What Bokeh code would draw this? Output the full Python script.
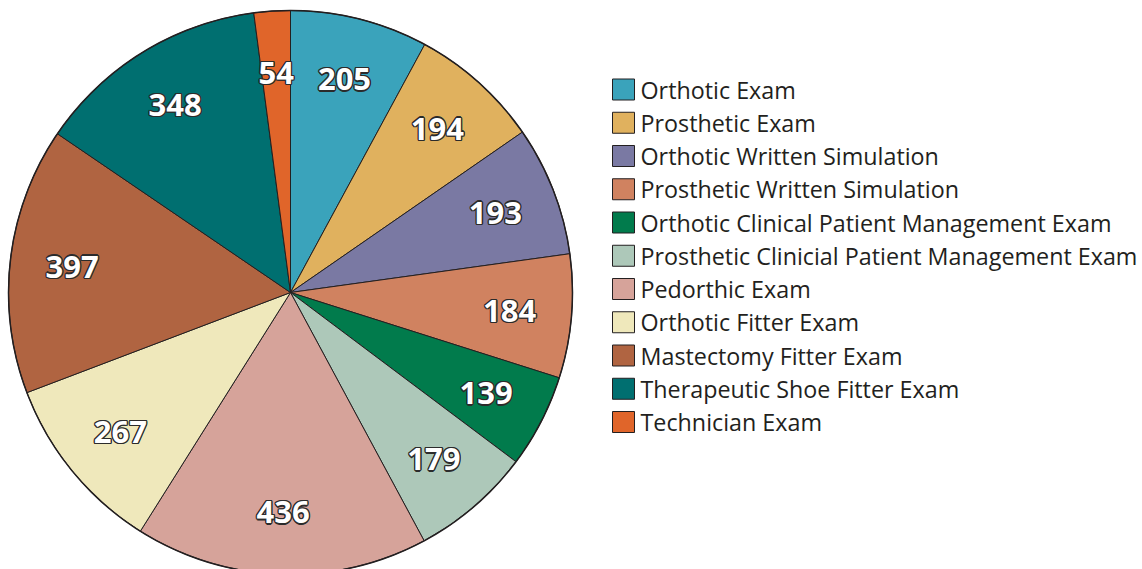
import numpy as np
from bokeh.plotting import figure
from bokeh.models import Range1d, ColumnDataSource
from bokeh.core.properties import value
from bokeh.embed import file_html
from bokeh.resources import INLINE

categories = ["Orthotic Exam", "Prosthetic Exam", "Orthotic Written Simulation",
              "Prosthetic Written Simulation", "Orthotic Clinical Patient Management Exam",
              "Prosthetic Clinicial Patient Management Exam", "Pedorthic Exam",
              "Orthotic Fitter Exam", "Mastectomy Fitter Exam",
              "Therapeutic Shoe Fitter Exam", "Technician Exam"]
counts = [205, 194, 193, 184, 139, 179, 436, 267, 397, 348, 54]
colors = ["#3aa3bb", "#e0b15e", "#7a79a3", "#d08260", "#017b4c", "#adc8b9",
          "#d6a39a", "#efe8bb", "#b06441", "#006f70", "#e0652a"]

W, H = 1142, 569
cx, cy, R = 290, H - 292, 282
label_r = 0.78 * R

vals = np.array(counts, dtype=float)
total = vals.sum()
cum_end = np.cumsum(vals)
cum_start = cum_end - vals
start = np.pi / 2 - cum_end / total * 2 * np.pi
end = np.pi / 2 - cum_start / total * 2 * np.pi
mid = (start + end) / 2
lx = cx + label_r * np.cos(mid)
ly_lab = cy + label_r * np.sin(mid)

src = ColumnDataSource(dict(start=start, end=end, color=colors))

p = figure(width=W, height=H, output_backend="svg", toolbar_location=None,
           x_range=Range1d(0, W), y_range=Range1d(0, H), min_border=0)
p.axis.visible = False
p.grid.visible = False
p.outline_line_color = None
p.background_fill_color = "white"

p.wedge(x=cx, y=cy, radius=R, start_angle="start", end_angle="end",
        fill_color="color", line_color="#231f20", line_width=1, source=src)
p.circle(x=[cx], y=[cy], radius=R, fill_color=None, line_color="#231f20", line_width=1.5)

# legend
n = len(categories)
idx = np.arange(n)
leg_top = H - 89
step = 33.25
ly = leg_top - idx * step
leg = ColumnDataSource(dict(x=[623] * n, y=ly, color=colors, name=categories,
                            tx=[640] * n))
p.rect(x="x", y="y", width=22, height=21, fill_color="color", line_color="#231f20",
       line_width=1, source=leg)
p.text(x="tx", y="y", text="name", source=leg, text_color="#231f20",
       text_font=value("Open Sans"), text_font_size="23.3px",
       text_align="left", text_baseline="middle")

# value labels: bold white with dark halo (drawn as offset dark copies)
halo = [(-1.3, 0), (1.3, 0), (0, -1.3), (0, 1.3), (-1, -1), (1, 1), (-1, 1), (1, -1)]
for i in range(n):
    for dx, dy in halo:
        p.text(x=[lx[i]], y=[ly_lab[i]], text=[str(counts[i])], text_color="#2b2b2b",
               text_font=value("Open Sans"), text_font_style="bold", text_font_size="31px",
               text_align="center", text_baseline="middle", x_offset=dx, y_offset=dy)
    p.text(x=[lx[i]], y=[ly_lab[i]], text=[str(counts[i])], text_color="white",
           text_font=value("Open Sans"), text_font_style="bold", text_font_size="31px",
           text_align="center", text_baseline="middle")

open("out.html", "w").write(file_html(p, INLINE))
